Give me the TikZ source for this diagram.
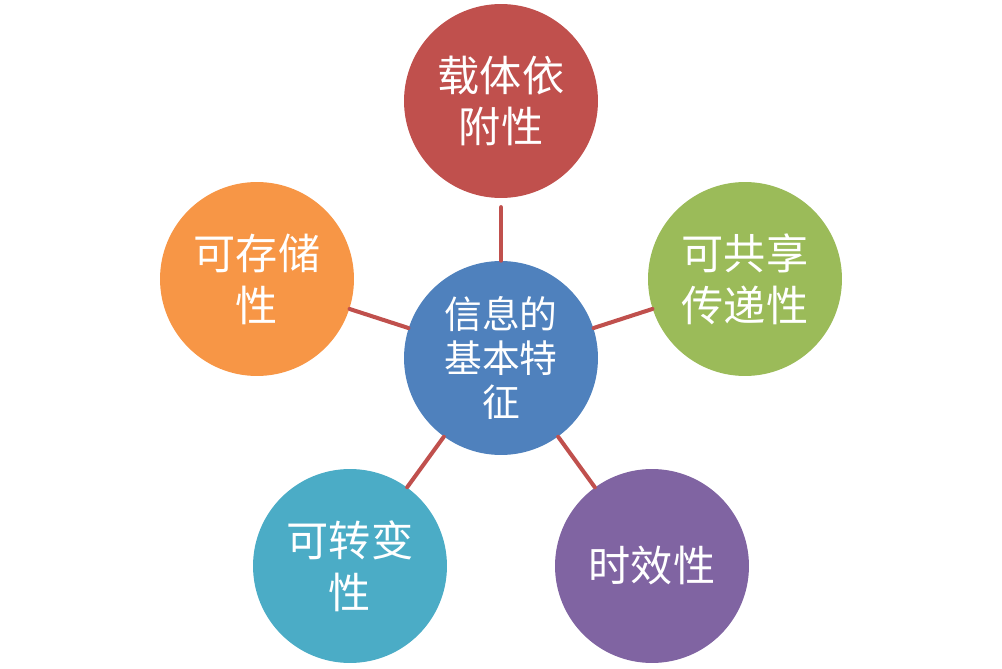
\documentclass[tikz,border=0pt]{standalone}
\usepackage{fontspec}
\newfontfamily\cjk{Noto Sans CJK SC}
\definecolor{zaiti}{HTML}{C0504D}
\definecolor{gongxiang}{HTML}{9BBB59}
\definecolor{jiben}{HTML}{4F81BD}
\definecolor{cunchu}{HTML}{F79646}
\definecolor{zhuanbian}{HTML}{4BACC6}
\definecolor{shixiao}{HTML}{8064A2}
\tikzset{
  ball/.style={circle, minimum size=3.88cm, inner sep=0pt, align=center,
    text=white, font=\cjk\fontsize{24}{29.5}\selectfont},
  hub/.style={ball, font=\cjk\fontsize{21.5}{25.3}\selectfont},
  link/.style={draw=zaiti, line width=2.3pt},
}
\begin{document}
\begin{tikzpicture}[x=0.02cm, y=-0.02cm, line cap=round, line join=round]
\useasboundingbox (0,0) rectangle (1002,669);
% 中心
\node[hub, fill=jiben] (O) at (501,358) {信息的\\基本特\\征};
% 五个特征
\node[ball, fill=zaiti]     (T)  at (501,101) {载体依\\附性};
\node[ball, fill=gongxiang] (R)  at (745,279) {可共享\\传递性};
\node[ball, fill=shixiao]   (BR) at (652,566) {时效性};
\node[ball, fill=zhuanbian] (BL) at (350,566) {可转变\\性};
\node[ball, fill=cunchu]    (L)  at (257,279) {可存储\\性};
% 连线
\draw[link, shorten >=5] (O) -- (T);
\draw[link] (O) -- (R);
\draw[link] (O) -- (BR);
\draw[link] (O) -- (BL);
\draw[link] (O) -- (L);
\end{tikzpicture}
\end{document}
